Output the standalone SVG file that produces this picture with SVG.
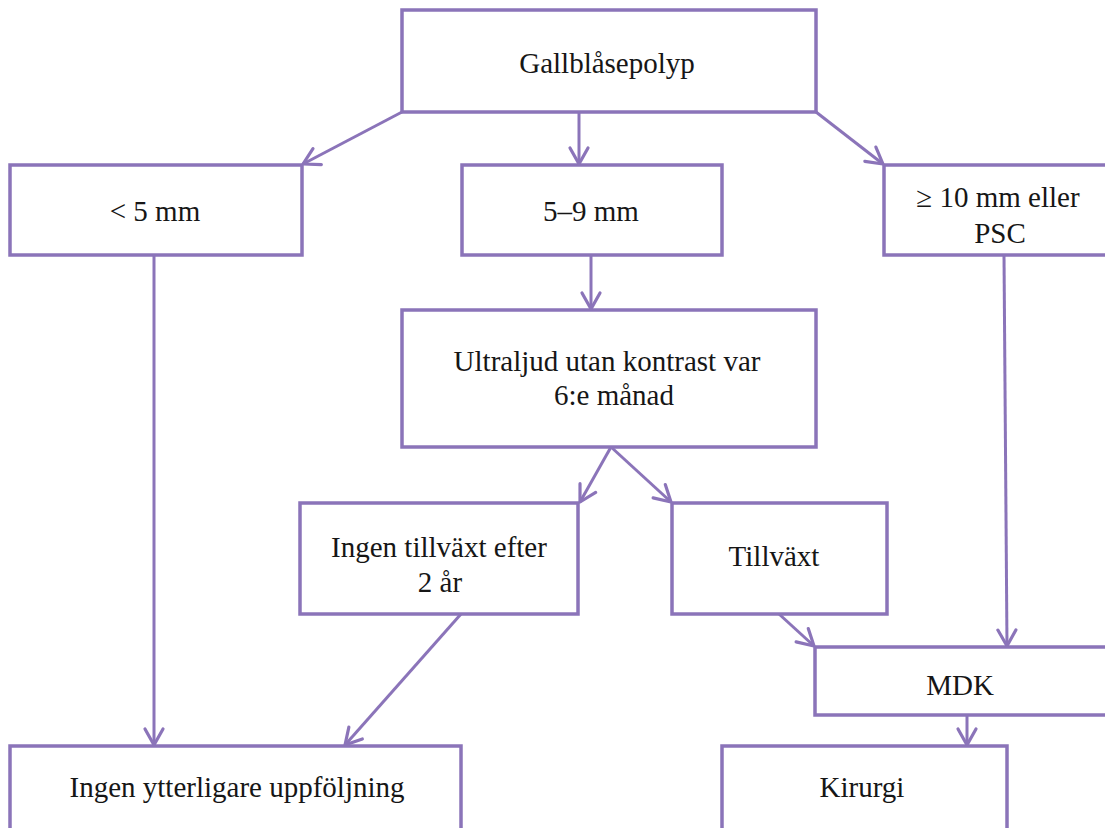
<svg xmlns="http://www.w3.org/2000/svg" width="1105" height="828" viewBox="0 0 1105 828">
<defs>
<marker id="ah" viewBox="0 0 24 24" refX="21" refY="12" markerWidth="24" markerHeight="24" markerUnits="userSpaceOnUse" orient="auto">
<path d="M5,3 L21,12 L5,21" fill="none" stroke="#8b74b9" stroke-width="3.2" stroke-linejoin="round" stroke-linecap="round"/>
</marker>
<style>
.box{fill:#fff;stroke:#8b74b9;stroke-width:3.5}
.t{font-family:"Liberation Serif","Times New Roman",serif;font-size:29px;fill:#161616;text-anchor:middle}
.c{fill:none;stroke:#8b74b9;stroke-width:3;marker-end:url(#ah)}
</style>
</defs>
<rect width="1105" height="828" fill="#fff"/>
<g id="connectors">
<line class="c" x1="402" y1="112" x2="303" y2="164"/>
<line class="c" x1="579" y1="112" x2="579" y2="164"/>
<line class="c" x1="816" y1="112" x2="883" y2="164"/>
<line class="c" x1="591" y1="255" x2="591" y2="309"/>
<line class="c" x1="154" y1="255" x2="154" y2="745"/>
<line class="c" x1="611" y1="447" x2="580" y2="502"/>
<line class="c" x1="611" y1="447" x2="671" y2="502"/>
<line class="c" x1="461" y1="614" x2="345" y2="745"/>
<line class="c" x1="779" y1="614" x2="814" y2="646"/>
<line class="c" x1="1004" y1="255" x2="1007" y2="646"/>
<line class="c" x1="967" y1="715" x2="967" y2="745"/>
</g>
<g id="n-gall"><rect class="box" x="402" y="10" width="414" height="102"/><text class="t" x="607" y="73">Gallblåsepolyp</text></g>
<g id="n-lt5"><rect class="box" x="10" y="165" width="292" height="90"/><text class="t" x="155" y="221">&lt; 5 mm</text></g>
<g id="n-5-9"><rect class="box" x="462" y="165" width="260" height="90"/><text class="t" x="591" y="221">5–9 mm</text></g>
<g id="n-ge10"><rect class="box" x="884" y="165" width="240" height="90"/><text class="t" x="998" y="207">≥ 10 mm eller</text><text class="t" x="1000" y="243">PSC</text></g>
<g id="n-ultra"><rect class="box" x="402" y="310" width="414" height="137"/><text class="t" x="607" y="371">Ultraljud utan kontrast var</text><text class="t" x="614" y="405">6:e månad</text></g>
<g id="n-ingen"><rect class="box" x="300" y="503" width="278" height="111"/><text class="t" x="439" y="557">Ingen tillväxt efter</text><text class="t" x="440" y="592">2 år</text></g>
<g id="n-tillvaxt"><rect class="box" x="672" y="503" width="215" height="111"/><text class="t" x="774" y="566">Tillväxt</text></g>
<g id="n-mdk"><rect class="box" x="815" y="647" width="310" height="68"/><text class="t" x="960" y="695">MDK</text></g>
<g id="n-ingenuppf"><rect class="box" x="10" y="746" width="451" height="100"/><text class="t" x="237" y="797">Ingen ytterligare uppföljning</text></g>
<g id="n-kirurgi"><rect class="box" x="722" y="746" width="285" height="100"/><text class="t" x="862" y="797">Kirurgi</text></g>
</svg>
